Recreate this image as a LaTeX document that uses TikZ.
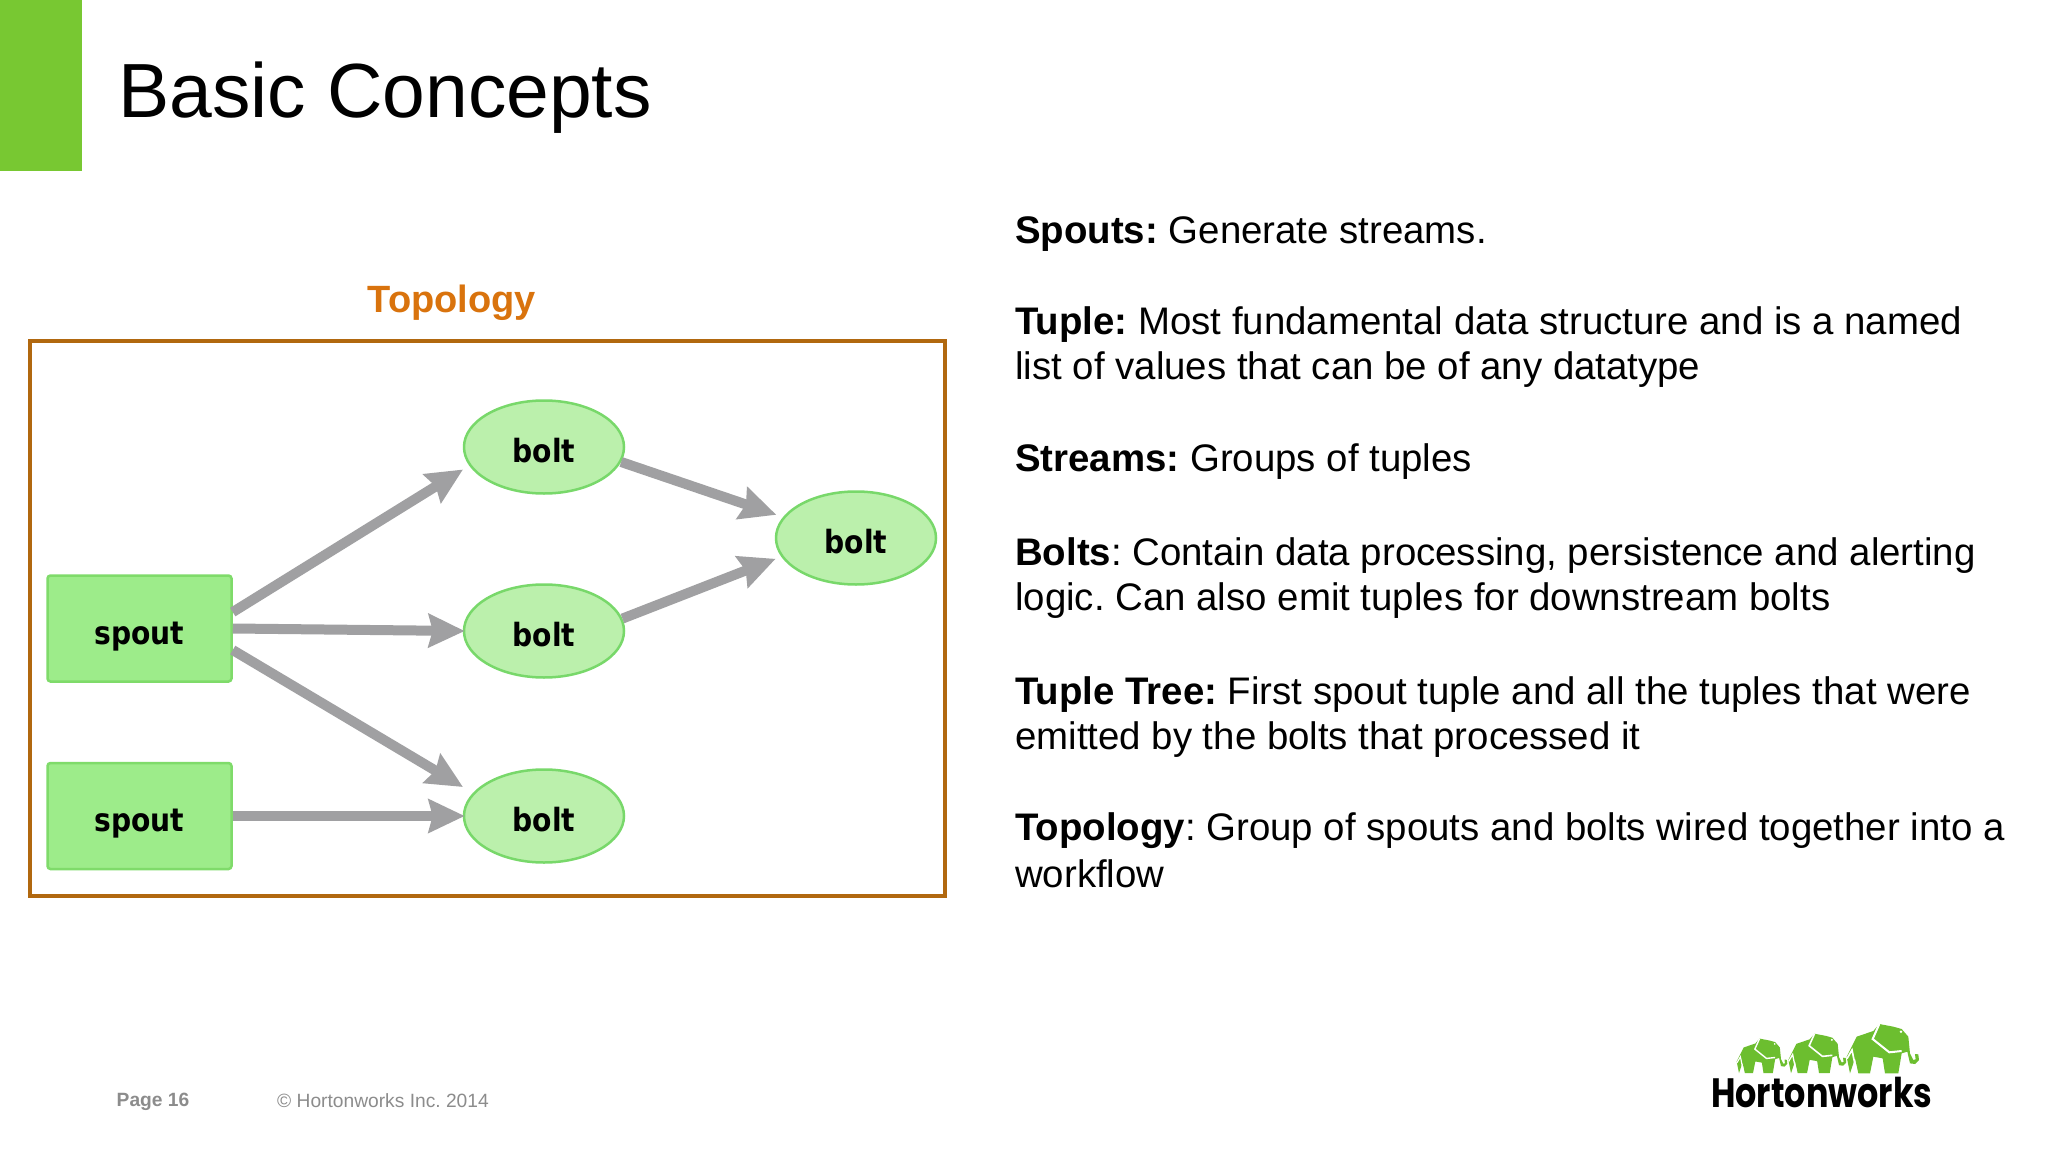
\documentclass[tikz,border=0pt]{standalone}
\usepackage{fontspec}
\setmainfont{Liberation Sans}
\newfontfamily\lblfont[FakeStretch=0.88]{DejaVu Sans}
\newfontfamily\logofont[FakeStretch=0.815]{Poppins}
\usetikzlibrary{arrows.meta,shapes.geometric}
\definecolor{hwgreen}{HTML}{78C832}
\definecolor{frameorange}{HTML}{B1680F}
\definecolor{topoorange}{HTML}{D9730D}
\definecolor{spoutfill}{HTML}{9DEC8A}
\definecolor{spoutline}{HTML}{7FDB6A}
\definecolor{boltfill}{HTML}{BBF0AC}
\definecolor{boltline}{HTML}{78D86A}
\definecolor{arrowgrey}{HTML}{A0A0A2}
\definecolor{footgrey}{HTML}{8C8C8C}
\definecolor{logogreen}{HTML}{6CBE2F}
\tikzset{
  x=1pt,y=-1pt,
  spoutbox/.style={draw=spoutline,fill=spoutfill,line width=2.5pt,rounded corners=3pt,minimum width=184pt,minimum height=106pt,inner sep=0pt,text height=31pt,text depth=0pt,font=\lblfont\bfseries\fontsize{32}{32}\selectfont},
  boltell/.style={ellipse,draw=boltline,fill=boltfill,line width=2.5pt,minimum width=160pt,minimum height=93pt,inner sep=0pt,text height=31pt,text depth=0pt,font=\lblfont\bfseries\fontsize{32}{32}\selectfont},
  flow/.style={draw=arrowgrey,line width=10pt,-{Stealth[length=36pt,width=33pt,inset=4pt,fill=arrowgrey]}},
  bodytext/.style={anchor=base west,inner sep=0pt,font=\fontsize{38.4}{38.4}\selectfont,text=black},
  foottext/.style={anchor=base west,inner sep=0pt,text=footgrey},
}
\newcommand{\elephant}[2]{%
  \begin{scope}[shift={#1},scale=#2]
    \fill[logogreen] (510,220)--(500,170)--(530,110)--(580,93)--(598,72)--(640,80)--(665,87)--(685,110)--(690,160)--(700,180)--(707,178)--(705,162)--(715,163)--(717,180)--(705,192)--(690,190)--(682,155)--(665,160)--(655,220)--(615,220)--(608,175)--(580,170)--(570,220)--(535,220)--(525,175)--cycle;
    \draw[white,line width=#2*6pt] (598,72)--(578,117)--(628,157)--(665,153);
    \draw[white,line width=#2*5pt] (501,176)--(516,150)--(530,218);
    \fill[white] (663,95) circle (4);
  \end{scope}}
\begin{document}
\frenchspacing
\begin{tikzpicture}
\useasboundingbox (0,0) rectangle (2048,1153);
\fill[white] (0,0) rectangle (2048,1153);
\fill[hwgreen] (0,0) rectangle (82,171);
\node[anchor=base west,inner sep=0pt,font=\fontsize{76.8}{76.8}\selectfont] (title) at (118,118) {Basic Concepts};
\node[inner sep=0pt,font=\bfseries\fontsize{38}{38}\selectfont,text=topoorange,anchor=base] (topo) at (452,312) {Topology};
\draw[frameorange,line width=4pt] (29.7,341) rectangle (945,896);

\node[spoutbox] (s1) at (139.5,628.5) {spout};
\node[spoutbox] (s2) at (139.5,816) {spout};
\node[boltell] (b1) at (544,447) {bolt};
\node[boltell] (b2) at (544,631) {bolt};
\node[boltell] (b3) at (544,816) {bolt};
\node[boltell] (b4) at (856,538) {bolt};

\draw[flow,shorten >=7.3pt] (s1.10.5) -- (b1.194.8);
\draw[flow,shorten >=-2pt] (s1.east) -- (b2.west);
\draw[flow,shorten >=11.5pt] (s1.-13) -- (b3.162);
\draw[flow,shorten >=-2pt] (s2.east) -- (b3.west);
\draw[flow,shorten >=7pt] (b1.-11) -- (b4.164);
\draw[flow,shorten >=6pt] (b2.9) -- (b4.194);

\node[bodytext] (t1) at (1015,243) {\textbf{Spouts:} Generate streams.};
\node[bodytext] (t2) at (1015,334) {\textbf{Tuple:} Most fundamental data structure and is a named};
\node[bodytext] (t3) at (1015,379) {list of values that can be of any datatype};
\node[bodytext] (t4) at (1015,471) {\textbf{Streams:} Groups of tuples};
\node[bodytext] (t5) at (1015,565) {\textbf{Bolts}: Contain data processing, persistence and alerting};
\node[bodytext] (t6) at (1015,610) {logic. Can also emit tuples for downstream bolts};
\node[bodytext] (t7) at (1015,704) {\textbf{Tuple Tree:} First spout tuple and all the tuples that were};
\node[bodytext] (t8) at (1015,749) {emitted by the bolts that processed it};
\node[bodytext] (t9) at (1015,840) {\textbf{Topology}: Group of spouts and bolts wired together into a};
\node[bodytext] (t10) at (1015,887) {workflow};

\node[foottext,font=\bfseries\fontsize{19.2}{19.2}\selectfont] (pg) at (116.5,1106) {Page 16};
\node[foottext,font=\fontsize{19.2}{19.2}\selectfont] (cr) at (277,1107) {© Hortonworks Inc. 2014};

\elephant{(1680,1000)}{0.3333}
\elephant{(1655,1014.5)}{0.2667}
\elephant{(1620,1021.8)}{0.2333}
\node[anchor=base west,inner sep=0pt,font=\logofont\bfseries\fontsize{41}{41}\selectfont] (logo) at (1711,1107) {Hortonworks};
\end{tikzpicture}
\end{document}
